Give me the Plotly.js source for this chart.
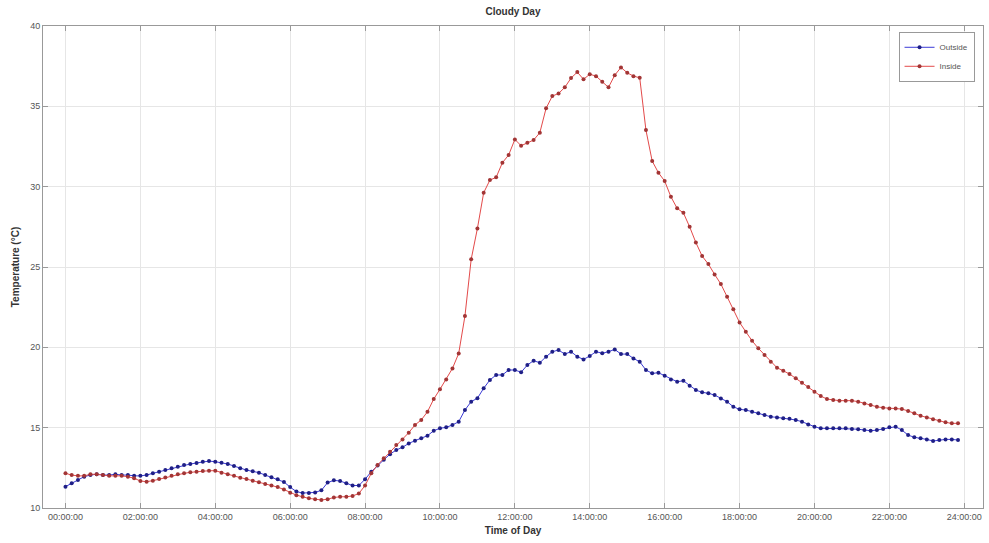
<!DOCTYPE html>
<html>
<head>
<meta charset="utf-8">
<script src="https://cdn.plot.ly/plotly-3.0.1.min.js"></script>
<style>html,body{margin:0;padding:0;background:#fff;}#chart{width:989px;height:543px;}</style>
</head>
<body>
<div id="chart"></div>
<script>
// Sample times (10-minute readings)
var times = [
"00:00","00:10","00:20","00:30","00:40","00:50",
"01:00","01:10","01:20","01:30","01:40","01:50",
"02:00","02:10","02:20","02:30","02:40","02:50",
"03:00","03:10","03:20","03:30","03:40","03:50",
"04:00","04:10","04:20","04:30","04:40","04:50",
"05:00","05:10","05:20","05:30","05:40","05:50",
"06:00","06:10","06:20","06:30","06:40","06:50",
"07:00","07:10","07:20","07:30","07:40","07:50",
"08:00","08:10","08:20","08:30","08:40","08:50",
"09:00","09:10","09:20","09:30","09:40","09:50",
"10:00","10:10","10:20","10:30","10:40","10:50",
"11:00","11:10","11:20","11:30","11:40","11:50",
"12:00","12:10","12:20","12:30","12:40","12:50",
"13:00","13:10","13:20","13:30","13:40","13:50",
"14:00","14:10","14:20","14:30","14:40","14:50",
"15:00","15:10","15:20","15:30","15:40","15:50",
"16:00","16:10","16:20","16:30","16:40","16:50",
"17:00","17:10","17:20","17:30","17:40","17:50",
"18:00","18:10","18:20","18:30","18:40","18:50",
"19:00","19:10","19:20","19:30","19:40","19:50",
"20:00","20:10","20:20","20:30","20:40","20:50",
"21:00","21:10","21:20","21:30","21:40","21:50",
"22:00","22:10","22:20","22:30","22:40","22:50",
"23:00","23:10","23:20","23:30","23:40","23:50"
];

var outside = [
11.33,11.54,11.74,11.95,12.05,12.10,
12.05,12.05,12.10,12.05,12.05,12.00,
12.00,12.05,12.16,12.26,12.36,12.47,
12.57,12.68,12.74,12.80,12.88,12.92,
12.88,12.82,12.74,12.61,12.47,12.36,
12.28,12.20,12.05,11.91,11.79,11.62,
11.30,11.02,10.93,10.93,10.97,11.10,
11.58,11.72,11.68,11.54,11.40,11.40,
11.79,12.26,12.65,13.00,13.35,13.61,
13.78,14.02,14.19,14.34,14.50,14.81,
14.96,15.02,15.17,15.37,16.10,16.62,
16.83,17.45,17.97,18.28,18.28,18.59,
18.59,18.45,18.90,19.17,19.04,19.42,
19.73,19.83,19.58,19.73,19.42,19.25,
19.46,19.73,19.63,19.73,19.87,19.58,
19.58,19.31,19.10,18.59,18.38,18.42,
18.23,18.00,17.86,17.92,17.61,17.34,
17.20,17.14,17.03,16.82,16.62,16.30,
16.14,16.10,15.99,15.89,15.79,15.68,
15.64,15.58,15.55,15.48,15.37,15.20,
15.06,14.96,14.96,14.96,14.96,14.96,
14.92,14.90,14.85,14.81,14.85,14.92,
15.02,15.06,14.85,14.54,14.40,14.34,
14.27,14.17,14.23,14.27,14.27,14.23
];

var inside = [
12.16,12.05,12.00,12.00,12.10,12.10,
12.05,12.00,12.00,12.00,11.95,11.85,
11.68,11.64,11.70,11.80,11.90,12.00,
12.10,12.16,12.22,12.26,12.30,12.32,
12.32,12.20,12.10,12.00,11.89,11.80,
11.70,11.60,11.50,11.40,11.30,11.15,
10.95,10.80,10.70,10.60,10.55,10.50,
10.55,10.65,10.70,10.70,10.75,10.90,
11.40,12.16,12.68,13.09,13.50,13.92,
14.27,14.69,15.17,15.48,15.99,16.78,
17.39,18.00,18.69,19.62,21.95,25.48,
27.40,29.62,30.41,30.58,31.49,31.97,
32.94,32.55,32.73,32.90,33.36,34.88,
35.64,35.80,36.18,36.76,37.13,36.68,
37.00,36.88,36.53,36.18,36.94,37.42,
37.09,36.88,36.78,33.52,31.59,30.87,
30.35,29.37,28.65,28.37,27.50,26.52,
25.68,25.18,24.54,23.94,23.15,22.37,
21.55,20.97,20.41,19.94,19.52,19.10,
18.73,18.54,18.34,18.07,17.80,17.53,
17.24,16.97,16.78,16.72,16.68,16.68,
16.68,16.62,16.51,16.41,16.30,16.24,
16.20,16.20,16.16,16.04,15.89,15.74,
15.64,15.52,15.43,15.33,15.27,15.27
];

var tickHours = [0,2,4,6,8,10,12,14,16,18,20,22,24];
var tickLabels = ["00:00:00","02:00:00","04:00:00","06:00:00","08:00:00","10:00:00","12:00:00",
                  "14:00:00","16:00:00","18:00:00","20:00:00","22:00:00","24:00:00"];
var yTicks = [10,15,20,25,30,35,40];

var hours = times.map(function(t){ var p = t.split(":"); return (+p[0]) + (+p[1])/60; });

var font = "Liberation Sans, Arial, sans-serif";

var traces = [
  {x: hours, y: outside, name: "Outside", type: "scatter", mode: "lines+markers",
   line: {color: "#3b3bd6", width: 1}, marker: {color: "#1f1f86", size: 4}},
  {x: hours, y: inside, name: "Inside", type: "scatter", mode: "lines+markers",
   line: {color: "#e34a4a", width: 1}, marker: {color: "#a23535", size: 4}}
];

var layout = {
  width: 989, height: 543,
  margin: {l: 43, r: 6, t: 26, b: 35},
  paper_bgcolor: "#ffffff", plot_bgcolor: "#ffffff",
  font: {family: font, size: 9, color: "#555"},
  title: {text: "<b>Cloudy Day</b>", font: {family: font, size: 10, color: "#333"},
          x: 0.5, xref: "paper", xanchor: "center", y: 0.978, yref: "container", yanchor: "middle"},
  showlegend: true,
  legend: {x: 0.991, xanchor: "right", y: 0.988, yanchor: "top",
           bgcolor: "#ffffff", bordercolor: "#999", borderwidth: 1,
           font: {family: font, size: 8, color: "#555"}, tracegroupgap: 0, itemwidth: 30},
  xaxis: {
    range: [-0.6, 24.5],
    tickmode: "array", tickvals: tickHours, ticktext: tickLabels,
    showgrid: true, gridcolor: "#e6e6e6", gridwidth: 1,
    zeroline: false, showline: true, linecolor: "#999", linewidth: 1, mirror: "ticks",
    ticks: "inside", ticklen: 5, tickcolor: "#999",
    tickfont: {family: font, size: 9, color: "#555"},
    title: {text: "<b>Time of Day</b>", font: {family: font, size: 10, color: "#333"}, standoff: 6}
  },
  yaxis: {
    range: [10, 40],
    tickmode: "array", tickvals: yTicks,
    showgrid: true, gridcolor: "#e6e6e6", gridwidth: 1,
    zeroline: false, showline: true, linecolor: "#999", linewidth: 1, mirror: "ticks",
    ticks: "inside", ticklen: 5, tickcolor: "#999",
    tickfont: {family: font, size: 9, color: "#555"},
    title: {text: "<b>Temperature (°C)</b>", font: {family: font, size: 10, color: "#333"}, standoff: 8}
  }
};

Plotly.newPlot("chart", traces, layout, {displayModeBar: false, staticPlot: true});
</script>
</body>
</html>
